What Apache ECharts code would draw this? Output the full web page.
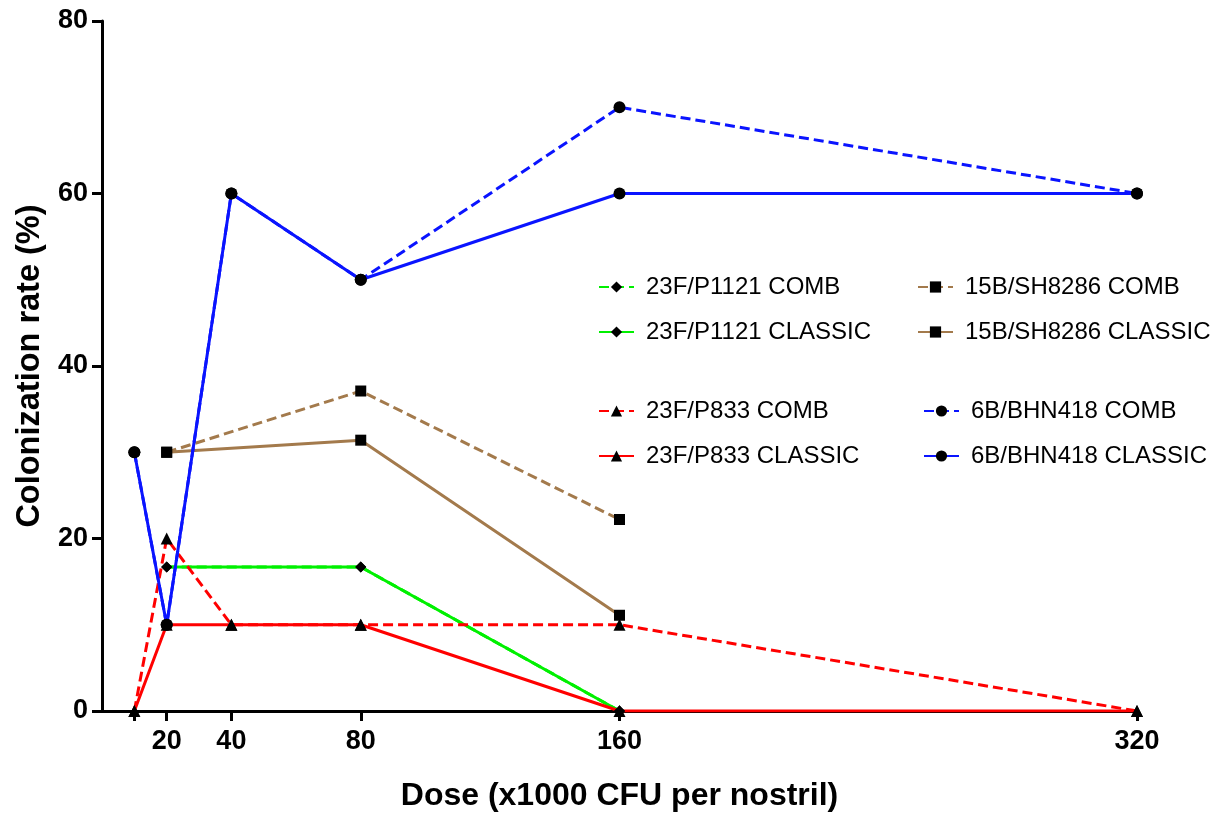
<!DOCTYPE html>
<html>
<head>
<meta charset="utf-8">
<script src="https://cdn.jsdelivr.net/npm/echarts@6/dist/echarts.min.js"></script>
<style>
html,body{margin:0;padding:0;background:#fff;}
#chart{width:1218px;height:817px;}
</style>
</head>
<body>
<div id="chart"></div>
<script>
// Doses (x1000 CFU per nostril)
var doses = [10, 20, 40, 80, 160, 320];
var xTickValues = [10, 20, 40, 80, 160, 320];
var xLabelValues = [20, 40, 80, 160, 320];

// Colonization rate (%) per dose; null = not tested
var p1121Comb    = [null, 16.7, null, 16.7, 0, null];
var p1121Classic = [null, 16.7, null, 16.7, 0, null];
var p833Comb     = [0, 20, 10, 10, 10, 0];
var p833Classic  = [0, 10, 10, 10, 0, 0];
var sh8286Comb    = [null, 30, null, 37.1, 22.2, null];
var sh8286Classic = [null, 30, null, 31.4, 11.1, null];
var bhn418Comb    = [30, 10, 60, 50, 70, 60];
var bhn418Classic = [30, 10, 60, 50, 60, 60];

var names = {
  p1121Comb: '23F/P1121 COMB', p1121Classic: '23F/P1121 CLASSIC',
  p833Comb: '23F/P833 COMB', p833Classic: '23F/P833 CLASSIC',
  sh8286Comb: '15B/SH8286 COMB', sh8286Classic: '15B/SH8286 CLASSIC',
  bhn418Comb: '6B/BHN418 COMB', bhn418Classic: '6B/BHN418 CLASSIC'
};

function pairs(vals) {
  var out = [];
  for (var i = 0; i < doses.length; i++) {
    if (vals[i] !== null) out.push([doses[i], vals[i]]);
  }
  return out;
}

var FONT = "'Liberation Sans', Arial, Helvetica, sans-serif";
var GREEN = '#00f000', RED = '#ff0000', BROWN = '#a37a4c', BLUE = '#0a14ff';

function mk(name, vals, color, dashed, symbol, size) {
  return {
    name: name, type: 'line', data: pairs(vals),
    symbol: symbol, symbolSize: size,
    itemStyle: { color: '#000' },
    lineStyle: { color: color, width: 3, type: dashed ? [10, 5] : 'solid' },
    emphasis: { disabled: true },
    animation: false
  };
}

var series = [
  mk(names.p1121Comb, p1121Comb, GREEN, true, 'diamond', 11),
  mk(names.p1121Classic, p1121Classic, GREEN, false, 'diamond', 11),
  mk(names.sh8286Comb, sh8286Comb, BROWN, true, 'rect', 11),
  mk(names.sh8286Classic, sh8286Classic, BROWN, false, 'rect', 11),
  mk(names.p833Comb, p833Comb, RED, true, 'triangle', 12),
  mk(names.p833Classic, p833Classic, RED, false, 'triangle', 12),
  mk(names.bhn418Comb, bhn418Comb, BLUE, true, 'circle', 12),
  mk(names.bhn418Classic, bhn418Classic, BLUE, false, 'circle', 12)
];

function leg(left, top, data) {
  return {
    left: left, top: top, orient: 'vertical', itemGap: 21,
    itemWidth: 35, itemHeight: 14,
    data: data, selectedMode: false,
    textStyle: { fontFamily: FONT, fontSize: 24, color: '#000', padding: [0, 0, 0, 7] }
  };
}

var chart = echarts.init(document.getElementById('chart'), null, { renderer: 'canvas' });
chart.setOption({
  backgroundColor: '#fff',
  animation: false,
  grid: { left: 102, right: 81, top: 21, bottom: 106, containLabel: false },
  legend: [
    leg(593, 270, [names.p1121Comb, names.p1121Classic]),
    leg(593, 394, [names.p833Comb, names.p833Classic]),
    leg(912, 270, [names.sh8286Comb, names.sh8286Classic]),
    leg(918, 394, [names.bhn418Comb, names.bhn418Classic])
  ],
  xAxis: {
    type: 'value', min: 0, max: 320,
    name: 'Dose (x1000 CFU per nostril)', nameLocation: 'middle', nameGap: 69,
    nameTextStyle: { fontFamily: FONT, fontSize: 32, fontWeight: 'bold', color: '#000' },
    axisLine: { show: true, onZero: false, lineStyle: { color: '#000', width: 3 } },
    axisTick: { show: true, length: 10, lineStyle: { color: '#000', width: 3 }, customValues: xTickValues },
    axisLabel: { margin: 17, fontFamily: FONT, fontSize: 27, fontWeight: 'bold', color: '#000', customValues: xLabelValues },
    splitLine: { show: false }
  },
  yAxis: {
    type: 'value', min: 0, max: 80, interval: 20,
    name: 'Colonization rate (%)', nameLocation: 'middle', nameGap: 55,
    nameTextStyle: { fontFamily: FONT, fontSize: 32.5, fontWeight: 'bold', color: '#000' },
    axisLine: { show: true, lineStyle: { color: '#000', width: 3 } },
    axisTick: { show: true, length: 10, lineStyle: { color: '#000', width: 3 } },
    axisLabel: { margin: 14, fontFamily: FONT, fontSize: 27, fontWeight: 'bold', color: '#000' },
    splitLine: { show: false }
  },
  series: series
});
</script>
</body>
</html>
